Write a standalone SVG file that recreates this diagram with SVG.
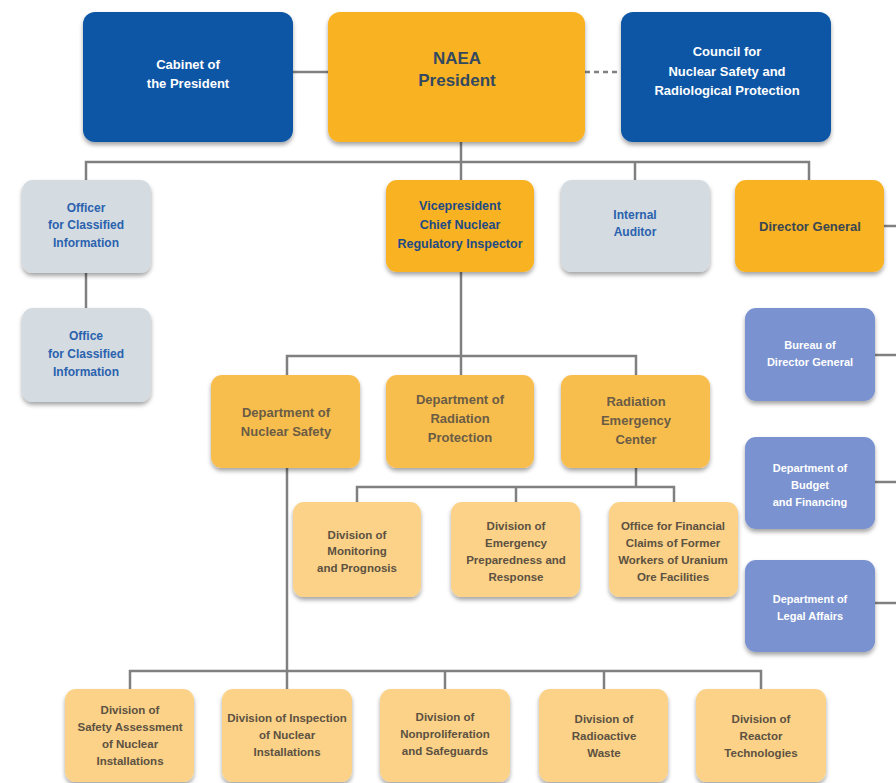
<svg xmlns="http://www.w3.org/2000/svg" width="896" height="783" viewBox="0 0 896 783">
<defs>
<filter id="sh" x="-10%" y="-10%" width="120%" height="130%">
<feDropShadow dx="0" dy="3" stdDeviation="2" flood-color="#000" flood-opacity="0.35"/>
</filter>
<style>
.box{filter:url(#sh)}
.dark{fill:#0A56A6}
.gold{fill:#F9B323}
.dept{fill:#F8BE4E}
.div{fill:#FBD287}
.gray{fill:#D4DBE1}
.lblue{fill:#7A92CF}
text{font-family:"Liberation Sans",Arial,sans-serif;font-weight:bold;text-anchor:middle}
.tw{fill:#FFFFFF;font-size:13px}
.tn{fill:#34495F;font-size:17px}
.tvp{fill:#1D4A86;font-size:12.5px}
.tdg{fill:#3A4651;font-size:13px}
.tg{fill:#2A62AE;font-size:12px}
.td{fill:#6A5C45;font-size:13px}
.tdv{fill:#5C5142;font-size:11.5px}
.tb{fill:#FFFFFF;font-size:11px}
.ln{stroke:#808080;stroke-width:2.5;fill:none}
</style>
</defs>
<rect width="896" height="783" fill="#FFFFFF"/>

<g id="connectors">
<line class="ln" x1="293" y1="72" x2="328" y2="72"/>
<line class="ln" x1="585" y1="72" x2="621" y2="72" stroke-dasharray="5,4"/>
<line class="ln" x1="461" y1="141" x2="461" y2="180"/>
<polyline class="ln" points="86,180 86,162 809,162 809,180"/>
<line class="ln" x1="635" y1="162" x2="635" y2="180"/>
<line class="ln" x1="86" y1="273" x2="86" y2="308"/>
<line class="ln" x1="461" y1="272" x2="461" y2="375"/>
<polyline class="ln" points="287,375 287,356 636,356 636,375"/>
<polyline class="ln" points="357,502 357,487 674,487 674,502"/>
<line class="ln" x1="636" y1="468" x2="636" y2="487"/>
<line class="ln" x1="516" y1="487" x2="516" y2="502"/>
<line class="ln" x1="287" y1="468" x2="287" y2="689"/>
<polyline class="ln" points="130,689 130,671 761,671 761,689"/>
<line class="ln" x1="445" y1="671" x2="445" y2="689"/>
<line class="ln" x1="604" y1="671" x2="604" y2="689"/>
<line class="ln" x1="884" y1="226" x2="896" y2="226"/>
<line class="ln" x1="875" y1="355" x2="896" y2="355"/>
<line class="ln" x1="875" y1="482" x2="896" y2="482"/>
<line class="ln" x1="875" y1="603" x2="896" y2="603"/>
</g>

<g id="cabinet">
<rect class="box dark" x="83" y="12" width="210" height="130" rx="12"/>
<text class="tw" x="188" y="69">Cabinet of</text>
<text class="tw" x="188" y="88">the President</text>
</g>
<g id="naea-president">
<rect class="box gold" x="328" y="12" width="257" height="130" rx="12"/>
<text class="tn" x="457" y="64">NAEA</text>
<text class="tn" x="457" y="86">President</text>
</g>
<g id="council">
<rect class="box dark" x="621" y="12" width="210" height="130" rx="12"/>
<text class="tw" x="727" y="56">Council for</text>
<text class="tw" x="727" y="76">Nuclear Safety and</text>
<text class="tw" x="727" y="95">Radiological Protection</text>
</g>

<g id="officer">
<rect class="box gray" x="22" y="180" width="129" height="93" rx="11"/>
<text class="tg" x="86" y="212">Officer</text>
<text class="tg" x="86" y="229">for Classified</text>
<text class="tg" x="86" y="247">Information</text>
</g>
<g id="vicepresident">
<rect class="box gold" x="386" y="180" width="148" height="92" rx="11"/>
<text class="tvp" x="460" y="210">Vicepresident</text>
<text class="tvp" x="460" y="229">Chief Nuclear</text>
<text class="tvp" x="460" y="248">Regulatory Inspector</text>
</g>
<g id="internal-auditor">
<rect class="box gray" x="561" y="180" width="149" height="92" rx="11"/>
<text class="tg" x="635" y="219">Internal</text>
<text class="tg" x="635" y="236">Auditor</text>
</g>
<g id="director-general">
<rect class="box gold" x="735" y="180" width="149" height="92" rx="11"/>
<text class="tdg" x="810" y="231">Director General</text>
</g>

<g id="office-classified">
<rect class="box gray" x="22" y="308" width="129" height="94" rx="11"/>
<text class="tg" x="86" y="340">Office</text>
<text class="tg" x="86" y="358">for Classified</text>
<text class="tg" x="86" y="376">Information</text>
</g>

<g id="dept-nuclear-safety">
<rect class="box dept" x="211" y="375" width="149" height="93" rx="11"/>
<text class="td" x="286" y="417">Department of</text>
<text class="td" x="286" y="436">Nuclear Safety</text>
</g>
<g id="dept-radiation-protection">
<rect class="box dept" x="386" y="375" width="148" height="93" rx="11"/>
<text class="td" x="460" y="404">Department of</text>
<text class="td" x="460" y="423">Radiation</text>
<text class="td" x="460" y="442">Protection</text>
</g>
<g id="radiation-emergency-center">
<rect class="box dept" x="561" y="375" width="149" height="93" rx="11"/>
<text class="td" x="636" y="406">Radiation</text>
<text class="td" x="636" y="425">Emergency</text>
<text class="td" x="636" y="444">Center</text>
</g>

<g id="bureau-dg">
<rect class="box lblue" x="745" y="308" width="130" height="93" rx="11"/>
<text class="tb" x="810" y="349">Bureau of</text>
<text class="tb" x="810" y="366">Director General</text>
</g>
<g id="dept-budget">
<rect class="box lblue" x="745" y="437" width="130" height="92" rx="11"/>
<text class="tb" x="810" y="472">Department of</text>
<text class="tb" x="810" y="489">Budget</text>
<text class="tb" x="810" y="506">and Financing</text>
</g>
<g id="dept-legal">
<rect class="box lblue" x="745" y="560" width="130" height="92" rx="11"/>
<text class="tb" x="810" y="603">Department of</text>
<text class="tb" x="810" y="620">Legal Affairs</text>
</g>

<g id="div-monitoring">
<rect class="box div" x="293" y="502" width="128" height="95" rx="11"/>
<text class="tdv" x="357" y="539">Division of</text>
<text class="tdv" x="357" y="555">Monitoring</text>
<text class="tdv" x="357" y="572">and Prognosis</text>
</g>
<g id="div-emergency">
<rect class="box div" x="451" y="502" width="129" height="95" rx="11"/>
<text class="tdv" x="516" y="530">Division of</text>
<text class="tdv" x="516" y="547">Emergency</text>
<text class="tdv" x="516" y="564">Preparedness and</text>
<text class="tdv" x="516" y="581">Response</text>
</g>
<g id="office-financial-claims">
<rect class="box div" x="609" y="502" width="129" height="95" rx="11"/>
<text class="tdv" x="673" y="530">Office for Financial</text>
<text class="tdv" x="673" y="547">Claims of Former</text>
<text class="tdv" x="673" y="564">Workers of Uranium</text>
<text class="tdv" x="673" y="581">Ore Facilities</text>
</g>

<g id="div-safety-assessment">
<rect class="box div" x="65" y="689" width="129" height="93" rx="11"/>
<text class="tdv" x="130" y="714">Division of</text>
<text class="tdv" x="130" y="731">Safety Assessment</text>
<text class="tdv" x="130" y="748">of Nuclear</text>
<text class="tdv" x="130" y="765">Installations</text>
</g>
<g id="div-inspection">
<rect class="box div" x="222" y="689" width="130" height="93" rx="11"/>
<text class="tdv" x="287" y="722">Division of Inspection</text>
<text class="tdv" x="287" y="739">of Nuclear</text>
<text class="tdv" x="287" y="756">Installations</text>
</g>
<g id="div-nonproliferation">
<rect class="box div" x="380" y="689" width="130" height="93" rx="11"/>
<text class="tdv" x="445" y="721">Division of</text>
<text class="tdv" x="445" y="738">Nonproliferation</text>
<text class="tdv" x="445" y="755">and Safeguards</text>
</g>
<g id="div-radioactive-waste">
<rect class="box div" x="539" y="689" width="129" height="93" rx="11"/>
<text class="tdv" x="604" y="723">Division of</text>
<text class="tdv" x="604" y="740">Radioactive</text>
<text class="tdv" x="604" y="757">Waste</text>
</g>
<g id="div-reactor">
<rect class="box div" x="696" y="689" width="130" height="93" rx="11"/>
<text class="tdv" x="761" y="723">Division of</text>
<text class="tdv" x="761" y="740">Reactor</text>
<text class="tdv" x="761" y="757">Technologies</text>
</g>
</svg>
